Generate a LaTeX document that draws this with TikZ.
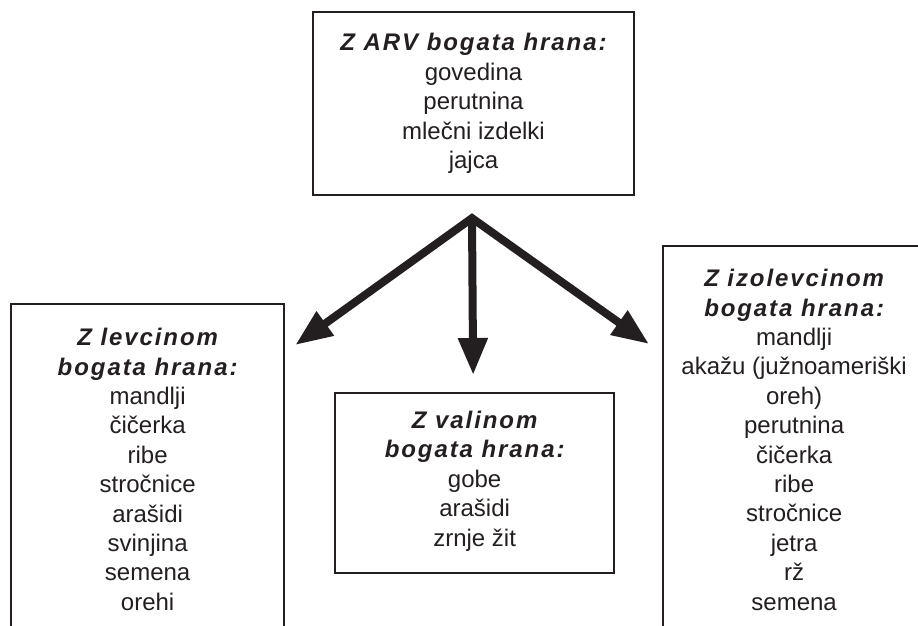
\documentclass[tikz,border=0pt]{standalone}
\usepackage{fontspec}
\setmainfont{Liberation Sans}
\newfontfamily\ttlfont[LetterSpace=8]{Liberation Sans}
\usetikzlibrary{arrows.meta}
\definecolor{ink}{RGB}{35,31,32}
\tikzset{
  boxstyle/.style={draw=ink, line width=2.3pt, rectangle, inner sep=0pt},
  txt/.style={text=ink, align=center, inner sep=0pt, font=\fontsize{24}{29.4}\selectfont},
  bigarrow/.style={draw=ink, line width=8pt, line join=miter,
    -{Triangle[length=37pt,width=28pt]}},
  bigarrowboth/.style={draw=ink, line width=8pt, line join=miter,
    {Triangle[length=37pt,width=28pt]}-{Triangle[length=37pt,width=28pt]}}
}
\newcommand{\ttl}[1]{{\ttlfont\bfseries\itshape #1}}
\begin{document}
\begin{tikzpicture}[x=1pt,y=-1pt]
\useasboundingbox (0,0) rectangle (918,625);
\fill[white] (0,0) rectangle (918,625);
\clip (0,0) rectangle (918,625);

% top box
\node[boxstyle, minimum width=321pt, minimum height=183pt] (top) at (473.5,103.5) {};
\node[txt] (toptext) at (top.center) {\ttl{Z ARV bogata hrana:}\\govedina\\perutnina\\mlečni izdelki\\jajca};

% left box (clipped at bottom)
\node[boxstyle, minimum width=273pt, minimum height=400pt, anchor=north west] (lbox) at (10,303) {};
\node[txt, anchor=north] (ltext) at ([yshift=-25pt]lbox.north) {\ttl{Z levcinom}\\\ttl{bogata hrana:}\\mandlji\\čičerka\\ribe\\stročnice\\arašidi\\svinjina\\semena\\orehi};

% middle box
\node[boxstyle, minimum width=279pt, minimum height=180pt, anchor=north west] (mbox) at (334,392) {};
\node[txt] (mtext) at ([yshift=2pt]mbox.center) {\ttl{Z valinom}\\\ttl{bogata hrana:}\\gobe\\arašidi\\zrnje žit};

% right box (clipped at right and bottom)
\node[boxstyle, minimum width=262pt, minimum height=450pt, anchor=north west] (rbox) at (662,245) {};
\node[txt, anchor=north] (rtext) at ([yshift=-24pt]rbox.north) {\ttl{Z izolevcinom}\\\ttl{bogata hrana:}\\mandlji\\akažu (južnoameriški\\oreh)\\perutnina\\čičerka\\ribe\\stročnice\\jetra\\rž\\semena};

% arrows
\coordinate (hub) at ([xshift=-1.5pt,yshift=-22pt]top.south);
\coordinate (ltip) at ([xshift=10pt,yshift=-42pt]lbox.north east);
\coordinate (mtip) at ([xshift=-1.5pt,yshift=17pt]mbox.north);
\coordinate (rtip) at ([xshift=-13pt,yshift=-99pt]rbox.north west);
\draw[bigarrowboth] (ltip) -- (hub) -- (rtip);
\draw[bigarrow] (hub) -- (mtip);
\end{tikzpicture}
\end{document}
